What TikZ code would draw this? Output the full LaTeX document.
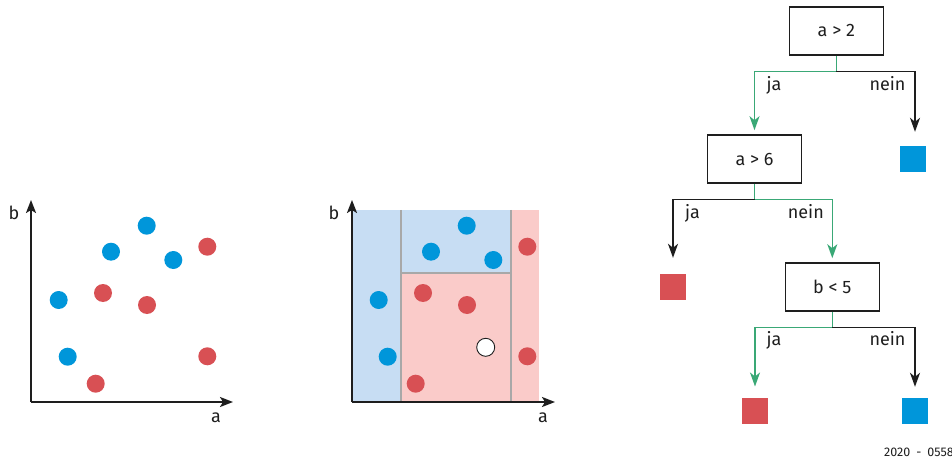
\documentclass[tikz,border=0pt]{standalone}
\usepackage{fontspec}
\setmainfont{Fira Sans}
\definecolor{dotblue}{RGB}{0,150,218}
\definecolor{dotred}{RGB}{216,80,84}
\definecolor{areablue}{RGB}{199,221,243}
\definecolor{areared}{RGB}{250,203,201}
\definecolor{yesgreen}{RGB}{58,168,118}
\definecolor{divider}{RGB}{168,168,168}
\definecolor{ink}{RGB}{30,30,30}
\usetikzlibrary{arrows.meta,calc}

\begin{document}
\begin{tikzpicture}[x=1pt,y=-1pt,font=\fontsize{18}{21}\selectfont,
    axis/.style={ink,line width=2pt,-{Stealth[length=13pt,width=10pt,inset=3pt]}},
    testbox/.style={draw=ink,line width=1.6pt,minimum width=94pt,minimum height=48pt,inner sep=0pt,text=ink},
    leaf/.style={minimum size=26pt,inner sep=0pt},
    yesarrow/.style={yesgreen,line width=1.5pt,-{Stealth[length=14pt,width=10pt,inset=4pt]}},
    noarrow/.style={ink,line width=1.5pt,-{Stealth[length=14pt,width=10pt,inset=4pt]}},
    branch/.style={anchor=base,text=ink}]
        \useasboundingbox (0,0) rectangle (952,462);
        % left: raw data
        \coordinate (o1) at (31,402);
        \draw[axis] (o1) -- (233,402);
        \draw[axis] (o1) -- (31,200);
        \node[text=ink] (lb1) at (14,213) {b};
        \node[text=ink] (la1) at (216,418) {a};
        % middle: partitioned plane
        \fill[areablue] (352,210) rectangle (401,402);
        \fill[areablue] (401,210) rectangle (511,273);
        \fill[areared] (401,273) rectangle (511,402);
        \fill[areared] (511,210) rectangle (539,402);
        \draw[divider,line width=2.2pt] (401,210) -- (401,402);
        \draw[divider,line width=2.2pt] (511,210) -- (511,402);
        \draw[divider,line width=2.2pt] (401,273) -- (511,273);
        \coordinate (o2) at (352,402);
        \draw[axis] (o2) -- (555,402);
        \draw[axis] (o2) -- (352,200);
        \node[text=ink] (lb2) at (334,213) {b};
        \node[text=ink] (la2) at (543,418) {a};
        % dots, same in both plots
        \foreach \s in {0,320} {
          \foreach \x/\y in {146.7/225.7,111/251.7,173.3/260,58.7/300,67.7/356.7}
            \fill[dotblue] ({\x+\s},\y) circle (9pt);
          \foreach \x/\y in {207.3/246.7,103/293,147/305,207.3/356.3,95.7/383.7}
            \fill[dotred] ({\x+\s},\y) circle (9pt);
        }
        \draw[ink,fill=white,line width=0.9pt] (485.7,347.3) circle (9pt);
        % right: decision tree
        \node[testbox] (t1) at (836.3,31) {a > 2};
        \node[testbox] (t2) at (754.5,159) {a > 6};
        \node[testbox] (t3) at (832.3,287) {b < 5};
        \node[leaf,fill=dotblue] (l1) at (913,159) {};
        \node[leaf,fill=dotred] (l2) at (673,287) {};
        \node[leaf,fill=dotred] (l3) at (755,410.7) {};
        \node[leaf,fill=dotblue] (l4) at (915,411) {};
        \draw[yesarrow,shorten >=4pt] (t1.south) -- ++(0,15.7) coordinate (j1) -| (t2.north);
        \draw[noarrow] (j1) -| ([xshift=2pt,yshift=14pt]l1.north);
        \draw[yesgreen,line width=1.5pt] (t2.south) -- ++(0,15.7) coordinate (j2);
        \draw[noarrow] (j2) -| ([yshift=16pt]l2.north);
        \draw[yesarrow,shorten >=4pt] (j2) -| (t3.north);
        \draw[yesarrow] (t3.south) -- ++(0,15.7) coordinate (j3) -| ([yshift=11pt]l3.north);
        \draw[noarrow] (j3) -| ([yshift=11pt]l4.north);
        \node[branch] (y1) at (774,91) {ja};
        \node[branch] (n1) at (887.5,91) {nein};
        \node[branch] (y2) at (692.5,218.3) {ja};
        \node[branch] (n2) at (805.8,218.3) {nein};
        \node[branch] (y3) at (774,345) {ja};
        \node[branch] (n3) at (887.5,345) {nein};
        \node[font=\fontsize{12.5}{14}\selectfont,text=ink,anchor=base west,inner sep=0pt] (id) at (884,456.5) {2020\hspace{6pt}-\hspace{6pt}0558};
\end{tikzpicture}
\end{document}
